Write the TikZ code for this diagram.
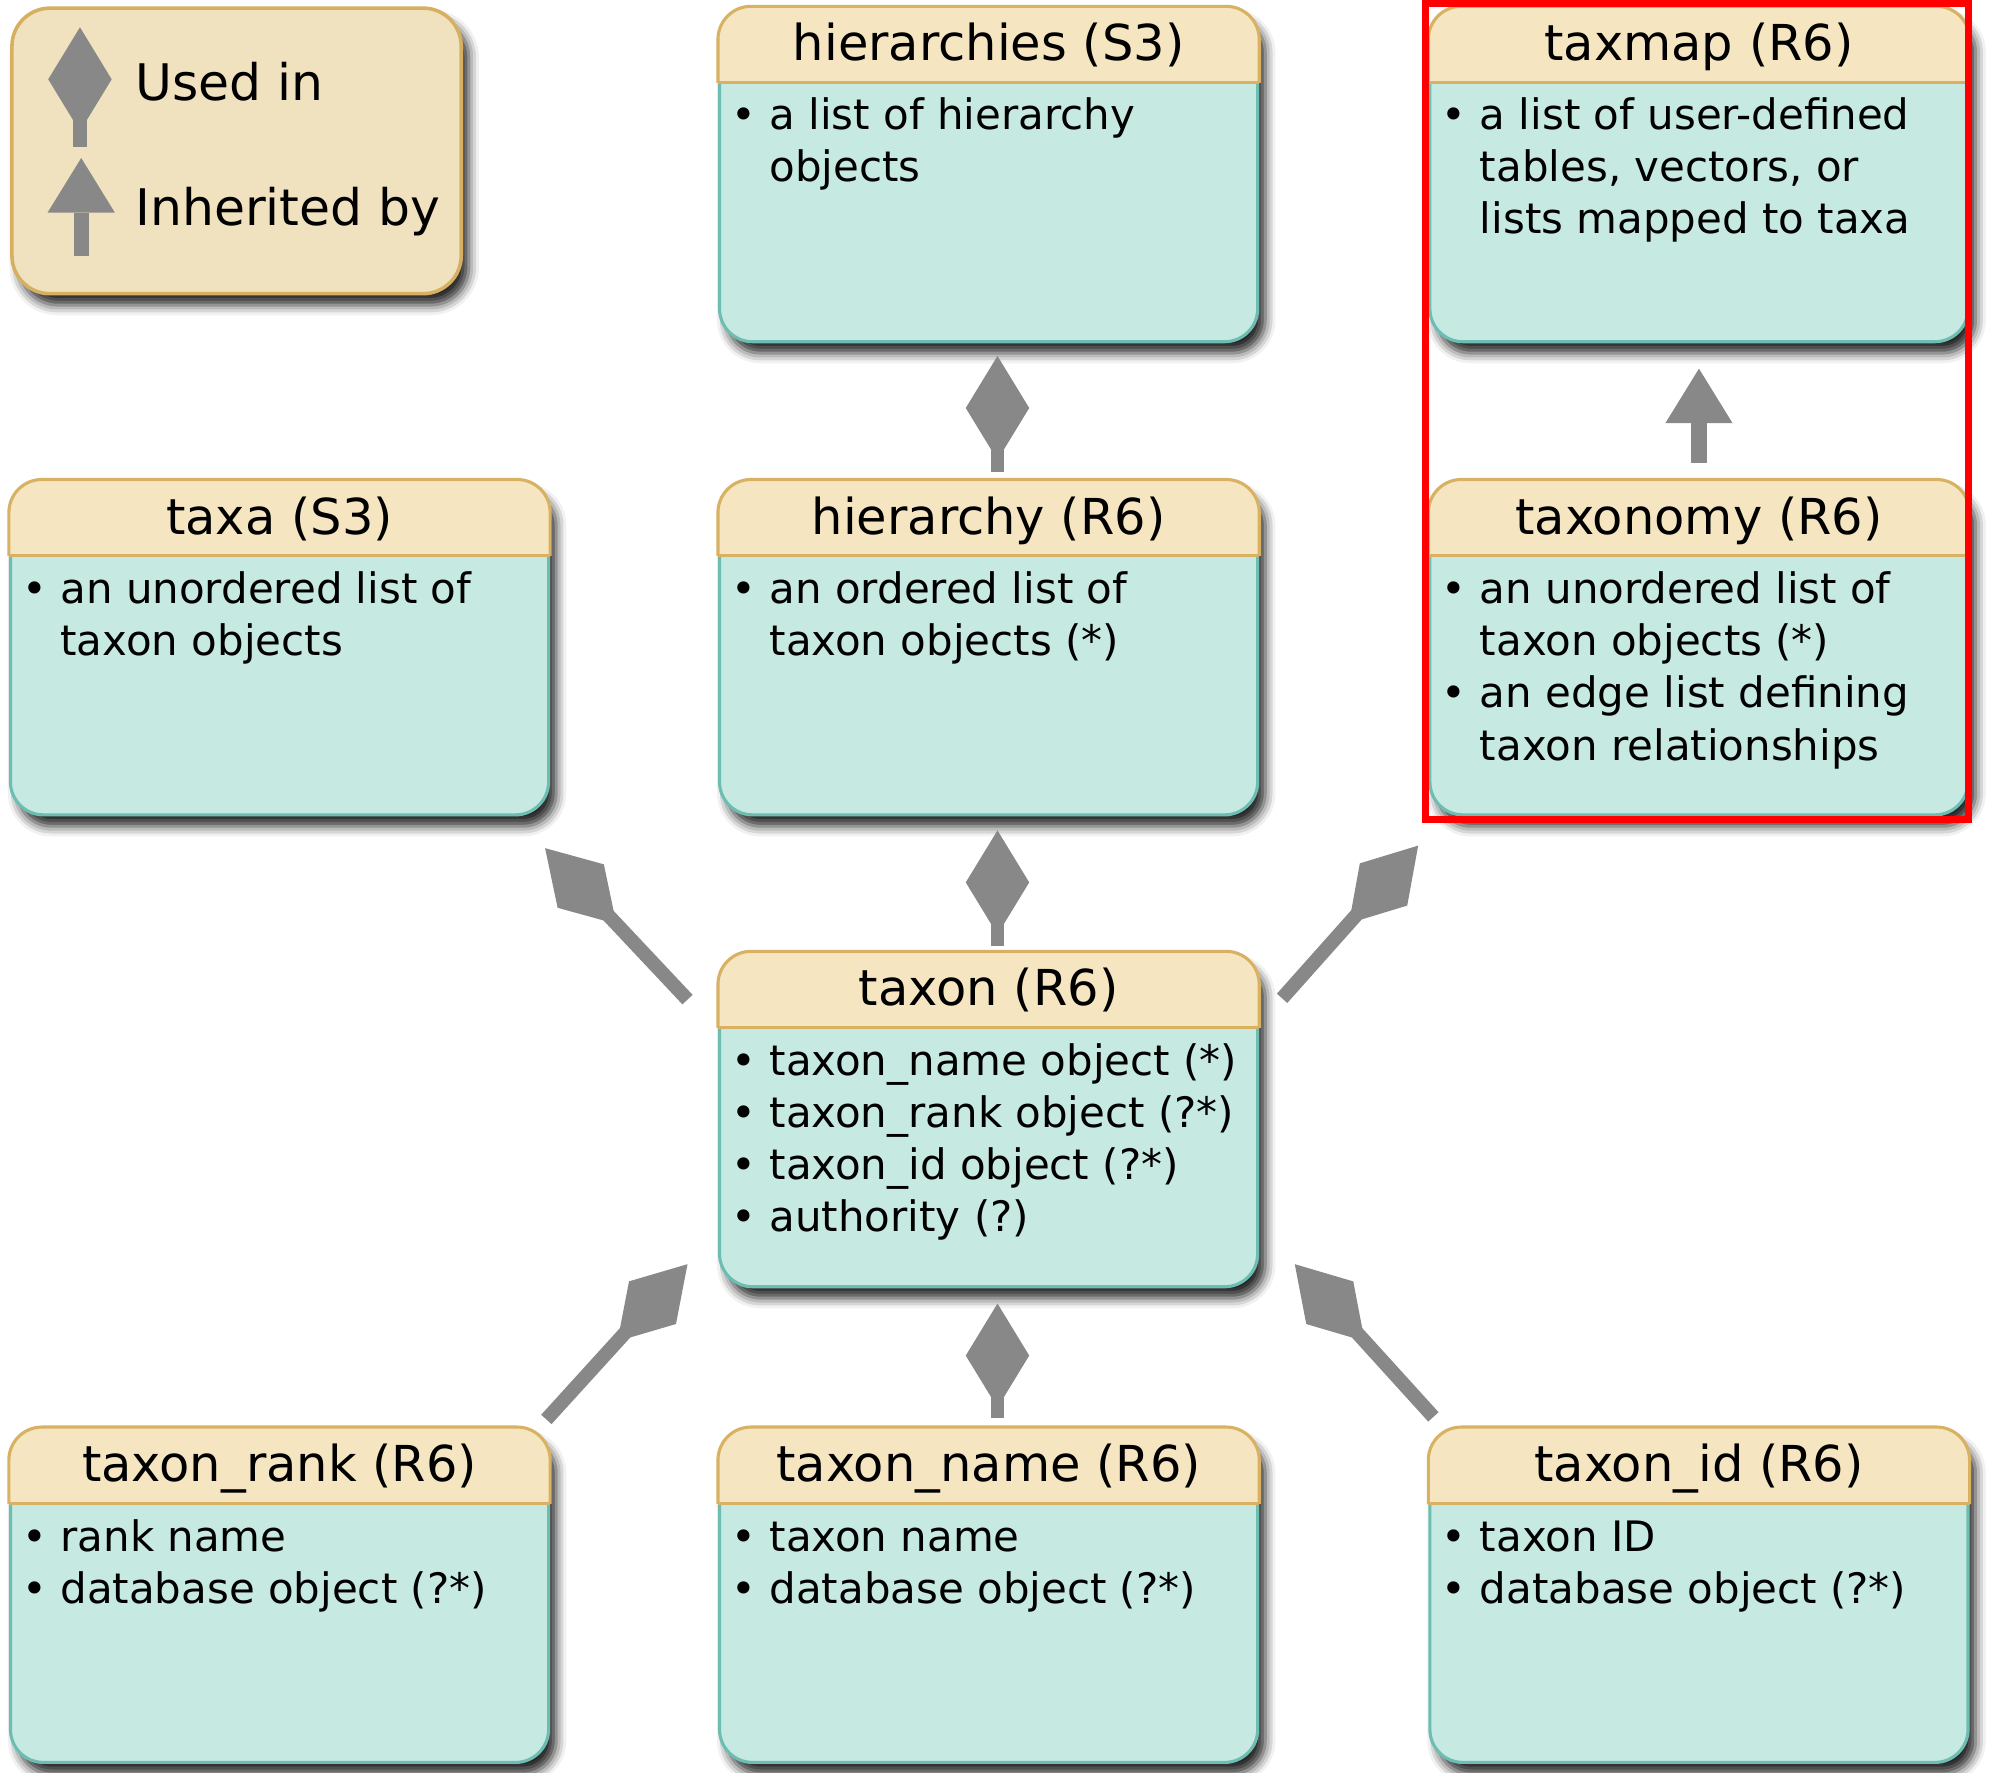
\documentclass[tikz,border=0pt]{standalone}
\usepackage{fontspec}
\setmainfont{DejaVu Sans}
\usetikzlibrary{arrows.meta, shadows.blur}

\definecolor{headtan}{HTML}{F5E6C1}
\definecolor{headedge}{HTML}{D9B163}
\definecolor{bodyteal}{HTML}{C6E9E2}
\definecolor{bodyedge}{HTML}{6DBDB3}
\definecolor{legendtan}{HTML}{F0E2BE}
\definecolor{legendedge}{HTML}{D6B060}
\definecolor{arrowgray}{HTML}{888888}

\newcommand{\itm}{\textbullet\ }
\newcommand{\cnt}{\hphantom{\textbullet\ }}

\tikzset{
  boxshadow/.style={blur shadow={shadow xshift=0.06cm, shadow yshift=-0.09cm, shadow blur radius=0.08cm, shadow opacity=85}},
  classbox/.style={anchor=north west, inner sep=0pt, minimum width=4.24cm, minimum height=2.63cm,
    rounded corners=0.26cm, fill=bodyteal, draw=bodyedge, line width=0.7pt, boxshadow},
  headpart/.style={rounded corners=0.26cm, fill=headtan, draw=headedge, line width=0.7pt},
  titletext/.style={anchor=base, inner sep=0pt, font=\fontsize{11.1}{13.3}\selectfont},
  bodytext/.style={anchor=base west, inner sep=0pt, font=\fontsize{9.4}{11.67}\selectfont},
  legendbox/.style={anchor=north west, inner sep=0pt, minimum width=3.54cm, minimum height=2.25cm,
    rounded corners=0.3cm, fill=legendtan, draw=legendedge, line width=0.8pt, boxshadow},
  legendtext/.style={anchor=base west, inner sep=0pt, font=\fontsize{11.3}{13.5}\selectfont},
  usedin/.style={draw=arrowgray, line width=0.11cm, -{Diamond[length=0.82cm, width=0.5cm, line width=0pt]}},
  inherit/.style={draw=arrowgray, line width=0.12cm, -{Triangle[length=0.43cm, width=0.53cm, line width=0pt]}},
  highlight/.style={draw=red, line width=0.055cm}
}

\begin{document}
\begin{tikzpicture}[x=0.01cm, y=-0.01cm]
    \useasboundingbox (0,0) rectangle (1568,1397);

    % legend
    \node[legendbox] (legend) at (8,5) {};
    \coordinate (useda) at ([xshift=0.55cm,yshift=-1.11cm]legend.north west);
    \coordinate (usedb) at ([xshift=0.55cm,yshift=-0.165cm]legend.north west);
    \coordinate (inha) at ([xshift=0.56cm,yshift=-1.97cm]legend.north west);
    \coordinate (inhb) at ([xshift=0.56cm,yshift=-1.195cm]legend.north west);
    \draw[usedin] (useda) -- (usedb);
    \draw[inherit] (inha) -- (inhb);
    \node[legendtext] (usedtext) at ([xshift=0.98cm,yshift=-0.74cm]legend.north west) {Used in};
    \node[legendtext] (inhtext) at ([xshift=0.98cm,yshift=-1.725cm]legend.north west) {Inherited by};

    % class boxes
    \foreach \nm/\x/\y/\ttl in {hierarchies/566/5/{hierarchies (S3)}, taxmap/1126/5/{taxmap (R6)},
        taxa/7/378/{taxa (S3)}, hierarchy/566/378/{hierarchy (R6)}, taxonomy/1126/378/{taxonomy (R6)},
        taxon/566/750/{taxon (R6)}, taxonrank/7/1125/{taxon\_rank (R6)},
        taxonname/566/1125/{taxon\_name (R6)}, taxonid/1126/1125/{taxon\_id (R6)}}{
      \node[classbox] (\nm) at (\x,\y) {};
      \begin{scope}
        \clip ([xshift=-2pt,yshift=2pt]\nm.north west) rectangle ([xshift=2pt,yshift=-0.6cm]\nm.north east);
        \draw[headpart] (\nm.north west) rectangle (\nm.south east);
      \end{scope}
      \draw[draw=headedge, line width=0.7pt] ([yshift=-0.6cm]\nm.north west) -- ([yshift=-0.6cm]\nm.north east);
      \node[titletext] (\nm-title) at ([yshift=-0.43cm]\nm.north) {\ttl};
    }

    \node[bodytext] (hierarchies-text) at ([xshift=0.10cm,yshift=-0.97cm]hierarchies.north west)
      {\begin{tabular}[t]{@{}l@{}}\itm a list of hierarchy\\ \cnt objects\end{tabular}};
    \node[bodytext] (taxmap-text) at ([xshift=0.10cm,yshift=-0.97cm]taxmap.north west)
      {\begin{tabular}[t]{@{}l@{}}\itm a list of user-defined\\ \cnt tables, vectors, or\\ \cnt lists mapped to taxa\end{tabular}};
    \node[bodytext] (taxa-text) at ([xshift=0.10cm,yshift=-0.98cm]taxa.north west)
      {\begin{tabular}[t]{@{}l@{}}\itm an unordered list of\\ \cnt taxon objects\end{tabular}};
    \node[bodytext] (hierarchy-text) at ([xshift=0.10cm,yshift=-0.98cm]hierarchy.north west)
      {\begin{tabular}[t]{@{}l@{}}\itm an ordered list of\\ \cnt taxon objects (*)\end{tabular}};
    \node[bodytext] (taxonomy-text) at ([xshift=0.10cm,yshift=-0.98cm]taxonomy.north west)
      {\begin{tabular}[t]{@{}l@{}}\itm an unordered list of\\ \cnt taxon objects (*)\\ \itm an edge list defining\\ \cnt taxon relationships\end{tabular}};
    \node[bodytext] (taxon-text) at ([xshift=0.10cm,yshift=-0.98cm]taxon.north west)
      {\begin{tabular}[t]{@{}l@{}}\itm taxon\_name object (*)\\ \itm taxon\_rank object (?*)\\ \itm taxon\_id object (?*)\\ \itm authority (?)\end{tabular}};
    \node[bodytext] (taxonrank-text) at ([xshift=0.10cm,yshift=-0.98cm]taxonrank.north west)
      {\begin{tabular}[t]{@{}l@{}}\itm rank name\\ \itm database object (?*)\end{tabular}};
    \node[bodytext] (taxonname-text) at ([xshift=0.10cm,yshift=-0.98cm]taxonname.north west)
      {\begin{tabular}[t]{@{}l@{}}\itm taxon name\\ \itm database object (?*)\end{tabular}};
    \node[bodytext] (taxonid-text) at ([xshift=0.10cm,yshift=-0.98cm]taxonid.north west)
      {\begin{tabular}[t]{@{}l@{}}\itm taxon ID\\ \itm database object (?*)\end{tabular}};

    % used in
    \draw[usedin] ([xshift=0.07cm,yshift=0.06cm]hierarchy.north) -- ([xshift=0.07cm,yshift=-0.1cm]hierarchies.south);
    \draw[usedin] ([xshift=0.07cm,yshift=0.04cm]taxon.north) -- ([xshift=0.07cm,yshift=-0.11cm]hierarchy.south);
    \draw[usedin] ([xshift=0.07cm,yshift=0.07cm]taxonname.north) -- ([xshift=0.07cm,yshift=-0.12cm]taxon.south);
    \draw[usedin] ([xshift=-0.24cm,yshift=-0.38cm]taxon.north west) -- ([xshift=-0.04cm,yshift=-0.25cm]taxa.south east);
    \draw[usedin] ([xshift=0.18cm,yshift=-0.37cm]taxon.north east) -- ([xshift=-0.08cm,yshift=-0.23cm]taxonomy.south west);
    \draw[usedin] ([xshift=-0.03cm,yshift=0.06cm]taxonrank.north east) -- ([xshift=-0.24cm,yshift=0.19cm]taxon.south west);
    \draw[usedin] ([xshift=0.04cm,yshift=0.08cm]taxonid.north west) -- ([xshift=0.28cm,yshift=0.19cm]taxon.south east);

    % inherited by
    \draw[inherit] ([yshift=0.13cm]taxonomy.north) -- ([yshift=-0.2cm]taxmap.south);

    \draw[highlight] ([xshift=-0.02cm,yshift=0.02cm]taxmap.north west) rectangle ([xshift=-0.01cm,yshift=-0.025cm]taxonomy.south east);
\end{tikzpicture}
\end{document}
